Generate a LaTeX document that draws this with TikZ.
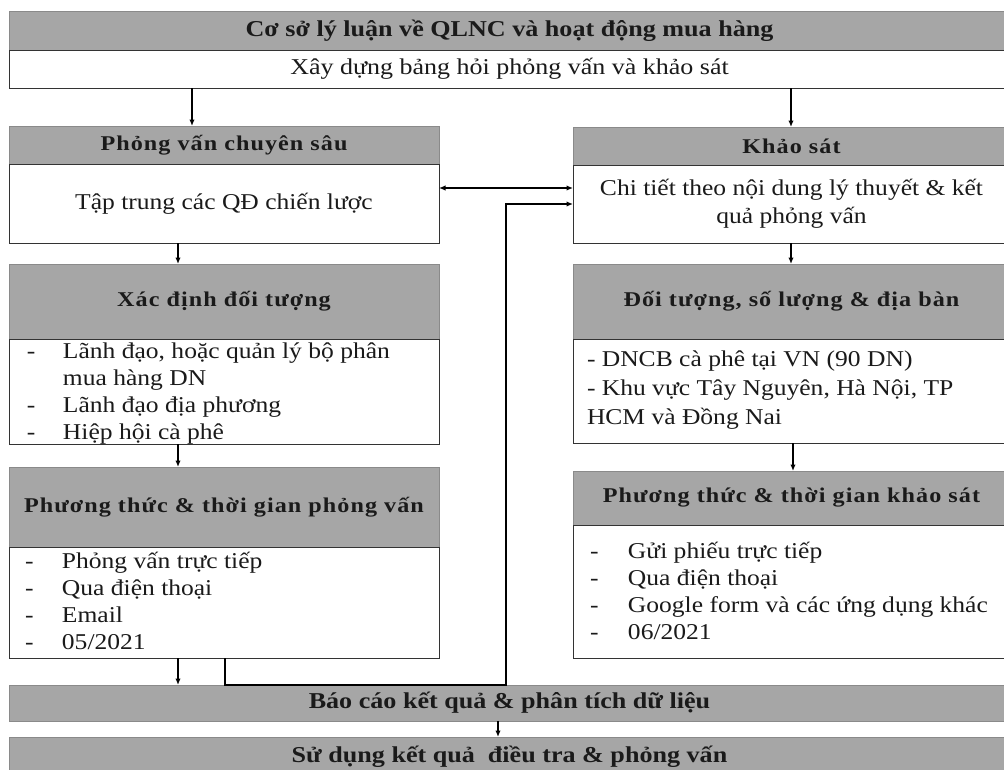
\documentclass[tikz,border=0pt]{standalone}
\usepackage{fontspec}
\setmainfont{Liberation Serif}
\newfontfamily\bodyfont[FakeStretch=1.13]{Liberation Serif}
\newfontfamily\headfont[FakeStretch=1.15,LetterSpace=5]{Liberation Serif}
\newfontfamily\bandfont[FakeStretch=1.15]{Liberation Serif}
\usetikzlibrary{arrows.meta}
\definecolor{hdrfill}{HTML}{A6A6A6}
\definecolor{hdrline}{HTML}{8A8A8A}
\definecolor{boxline}{HTML}{333333}
\definecolor{ink}{HTML}{1A1A1A}
\newcommand{\dashcol}[1]{\makebox[#1][l]{-}}
\begin{document}
\begin{tikzpicture}[x=1pt,y=-1pt,
  every node/.style={inner sep=0pt, outer sep=0pt, text=ink},
  graybox/.style={rectangle, draw=hdrline, fill=hdrfill, line width=0.8pt, anchor=north west,
    align=center, font=\headfont\bfseries\fontsize{21}{25}\selectfont},
  band/.style={graybox, font=\bandfont\bfseries\fontsize{22.7}{26}\selectfont},
  whitebox/.style={rectangle, draw=boxline, fill=white, line width=1pt, anchor=north west,
    align=center, font=\bodyfont\fontsize{22.6}{28}\selectfont},
  listtext/.style={anchor=north west, align=left, font=\bodyfont\fontsize{22.6}{27}\selectfont},
  conn/.style={line width=1.3pt, draw=black, -{Latex[length=6.5pt,width=5.5pt]}},
  twoway/.style={line width=1.3pt, draw=black, {Latex[length=6.5pt,width=5.5pt]}-{Latex[length=6.5pt,width=5.5pt]}}
]
\useasboundingbox (0,0) rectangle (1004,769);
\fill[white] (0,0) rectangle (1004,769);

% top bands
\node[band, minimum width=1001pt, minimum height=39pt] (basis) at (9,11)
  {Cơ sở lý luận về QLNC và hoạt động mua hàng};
\node[whitebox, minimum width=1001pt, minimum height=38pt,
  font=\bandfont\fontsize{22.6}{26}\selectfont] (build) at (9,50)
  {Xây dựng bảng hỏi phỏng vấn và khảo sát};

% interview column
\node[graybox, minimum width=430pt, minimum height=38pt] (pvHead) at (9,126) {Phỏng vấn chuyên sâu};
\node[whitebox, minimum width=430pt, minimum height=79pt] (pvBody) at (9,164) {Tập trung các QĐ chiến lược};
\node[graybox, minimum width=430pt, minimum height=75pt] (xdHead) at (9,264) {Xác định đối tượng};
\node[whitebox, minimum width=430pt, minimum height=105pt] (xdBody) at (9,339) {};
\node[graybox, minimum width=430pt, minimum height=80pt] (ptHead) at (9,467) {Phương thức \& thời gian phỏng vấn};
\node[whitebox, minimum width=430pt, minimum height=111pt] (ptBody) at (9,547) {};

\node[listtext] (xdList) at (27,340) {\begin{tabular}{@{}l@{}}
  \dashcol{36pt}Lãnh đạo, hoặc quản lý bộ phân\\
  \hspace*{36pt}mua hàng DN\\
  \dashcol{36pt}Lãnh đạo địa phương\\
  \dashcol{36pt}Hiệp hội cà phê
\end{tabular}};
\node[listtext] (ptList) at (25,550) {\begin{tabular}{@{}l@{}}
  \dashcol{37pt}Phỏng vấn trực tiếp\\
  \dashcol{37pt}Qua điện thoại\\
  \dashcol{37pt}Email\\
  \dashcol{37pt}05/2021
\end{tabular}};

% survey column
\node[graybox, minimum width=437pt, minimum height=38pt] (ksHead) at (573,127) {Khảo sát};
\node[whitebox, minimum width=437pt, minimum height=78pt] (ksBody) at (573,165)
  {Chi tiết theo nội dung lý thuyết \& kết\\quả phỏng vấn};
\node[graybox, minimum width=437pt, minimum height=75pt] (dtHead) at (573,264) {Đối tượng, số lượng \& địa bàn};
\node[whitebox, minimum width=437pt, minimum height=104pt] (dtBody) at (573,339) {};
\node[graybox, minimum width=437pt, minimum height=54pt] (ptkHead) at (573,471) {Phương thức \& thời gian khảo sát};
\node[whitebox, minimum width=437pt, minimum height=133pt] (ptkBody) at (573,525) {};

\node[listtext, font=\bodyfont\fontsize{22.6}{29}\selectfont] (dtList) at (587,346) {\begin{tabular}{@{}l@{}}
  - DNCB cà phê tại VN (90 DN)\\
  - Khu vực Tây Nguyên, Hà Nội, TP\\
  HCM và Đồng Nai
\end{tabular}};
\node[listtext] (ptkList) at (590,540) {\begin{tabular}{@{}l@{}}
  \dashcol{38pt}Gửi phiếu trực tiếp\\
  \dashcol{38pt}Qua điện thoại\\
  \dashcol{38pt}Google form và các ứng dụng khác\\
  \dashcol{38pt}06/2021
\end{tabular}};

% bottom bands
\node[band, minimum width=1001pt, minimum height=36pt] (report) at (9,685) {Báo cáo kết quả \& phân tích dữ liệu};
\node[band, minimum width=1001pt, minimum height=40pt] (use) at (9,737) {Sử dụng kết quả\ \ điều tra \& phỏng vấn};

% connectors
\draw[conn] (build.south -| 192,0) -- (pvHead.north -| 192,0);
\draw[conn] (build.south -| 791,0) -- (ksHead.north -| 791,0);
\draw[conn] (pvBody.south -| 178,0) -- (xdHead.north -| 178,0);
\draw[conn] (xdBody.south -| 178,0) -- (ptHead.north -| 178,0);
\draw[conn] (ptBody.south -| 178,0) -- (report.north -| 178,0);
\draw[conn] (ksBody.south -| 791,0) -- (dtHead.north -| 791,0);
\draw[conn] (dtBody.south -| 793,0) -- (ptkHead.north -| 793,0);
\draw[conn] (report.south -| 498,0) -- (use.north -| 498,0);
\draw[twoway] ([yshift=15.5pt]pvBody.east) -- ([yshift=16pt]ksBody.west);
\draw[conn] (ptBody.south -| 225,0) |- (report.north -| 506,0) |- (ksBody.west);
\end{tikzpicture}
\end{document}
